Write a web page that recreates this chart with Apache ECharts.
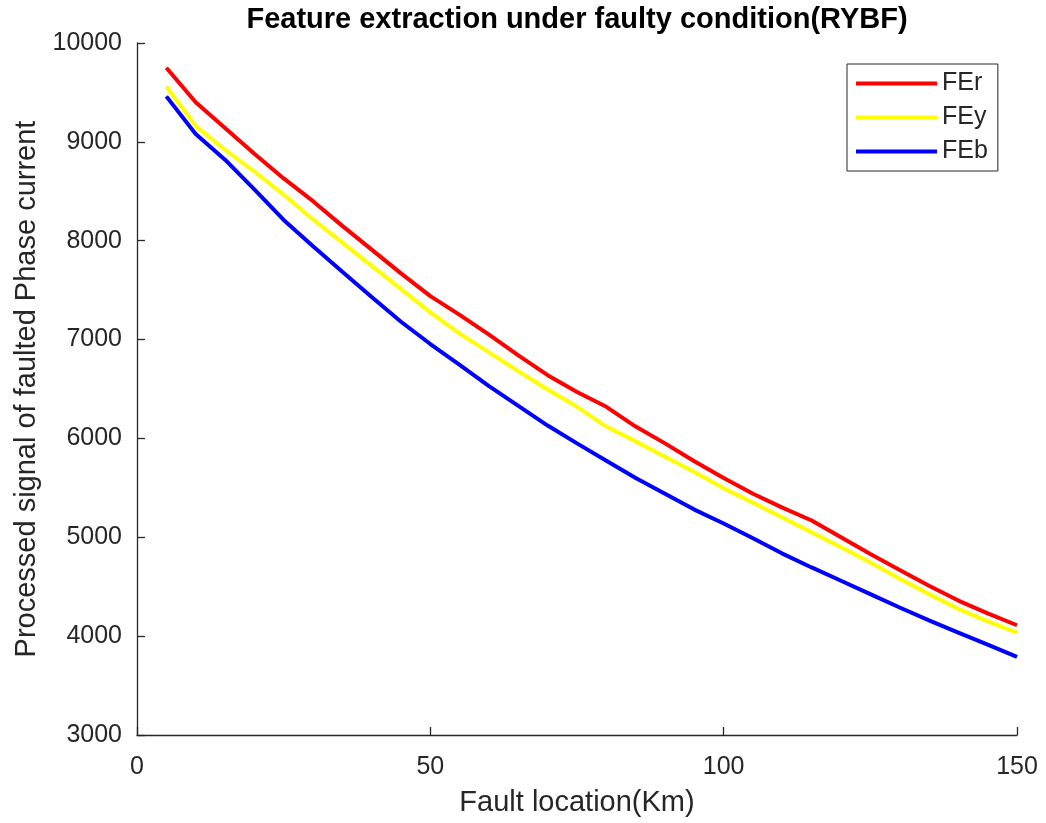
<!DOCTYPE html>
<html>
<head>
<meta charset="utf-8">
<script src="https://cdn.jsdelivr.net/npm/echarts@6.0.0/dist/echarts.min.js"></script>
<style>
html,body{margin:0;padding:0;background:#fff;}
#chart{width:1046px;height:823px;}
</style>
</head>
<body>
<div id="chart"></div>
<script>
var faultKm = [5,10,15,20,25,30,35,40,45,50,55,60,65,70,75,80,85,90,95,100,105,110,115,120,125,130,135,140,145,150];
var FEr = [9750,9400,9140,8880,8630,8400,8150,7910,7670,7440,7250,7050,6840,6640,6470,6320,6120,5950,5770,5600,5440,5300,5170,5000,4830,4670,4510,4360,4230,4110];
var FEy = [9560,9160,8920,8700,8465,8215,7980,7745,7510,7275,7060,6870,6680,6495,6320,6120,5970,5815,5660,5495,5350,5200,5050,4900,4745,4580,4425,4275,4150,4035];
var FEb = [9460,9080,8820,8520,8210,7945,7685,7430,7180,6955,6745,6530,6330,6130,5950,5775,5600,5440,5280,5140,4990,4835,4695,4560,4425,4290,4160,4035,3915,3790];
var seriesNames = ['FEr','FEy','FEb'];
var seriesColors = ['#ff0000','#ffff00','#0000ff'];
var seriesValues = [FEr, FEy, FEb];

var FONT = '"Liberation Sans", Arial, Helvetica, sans-serif';
var TXT = '#262626';

function pairs(vals){ return faultKm.map(function(x,i){ return [x, vals[i]]; }); }

var chart = echarts.init(document.getElementById('chart'), null, {renderer:'canvas'});
chart.setOption({
  backgroundColor:'#ffffff',
  animation:false,
  title:{
    text:'Feature extraction under faulty condition(RYBF)',
    left:577, top:5, textAlign:'center', padding:0,
    textStyle:{fontFamily:FONT, fontSize:29, fontWeight:'bold', color:'#000'}
  },
  legend:{
    data:seriesNames,
    orient:'vertical',
    left:847, top:64,
    padding:[7,10,7,9],
    itemGap:9,
    itemWidth:81, itemHeight:4,
    icon:'rect',
    borderColor:TXT, borderWidth:1,
    backgroundColor:'#fff',
    textStyle:{fontFamily:FONT, fontSize:25, color:TXT}
  },
  grid:{left:137, right:29, top:43, bottom:88, containLabel:false},
  xAxis:{
    type:'value', min:0, max:150, interval:50,
    name:'Fault location(Km)', nameLocation:'middle', nameGap:53,
    nameTextStyle:{fontFamily:FONT, fontSize:29, color:TXT},
    axisLine:{show:true, onZero:false, lineStyle:{color:TXT, width:1.3}},
    axisTick:{show:true, inside:true, length:8, lineStyle:{color:TXT, width:1.3}},
    axisLabel:{fontFamily:FONT, fontSize:25, color:TXT, margin:20},
    splitLine:{show:false}
  },
  yAxis:{
    type:'value', min:3000, max:10000, interval:1000,
    name:'Processed signal of faulted Phase current', nameLocation:'middle', nameGap:90,
    nameTextStyle:{fontFamily:FONT, fontSize:29, color:TXT},
    axisLine:{show:true, onZero:false, lineStyle:{color:TXT, width:1.3}},
    axisTick:{show:true, inside:true, length:8, lineStyle:{color:TXT, width:1.3}},
    axisLabel:{fontFamily:FONT, fontSize:25, color:TXT, margin:15,
      formatter:function(v){ return String(v); }},
    splitLine:{show:false}
  },
  series: seriesNames.map(function(n,i){
    return {
      name:n, type:'line', data:pairs(seriesValues[i]),
      symbol:'none', smooth:false,
      lineStyle:{color:seriesColors[i], width:4},
      itemStyle:{color:seriesColors[i]}
    };
  })
});
</script>
</body>
</html>
